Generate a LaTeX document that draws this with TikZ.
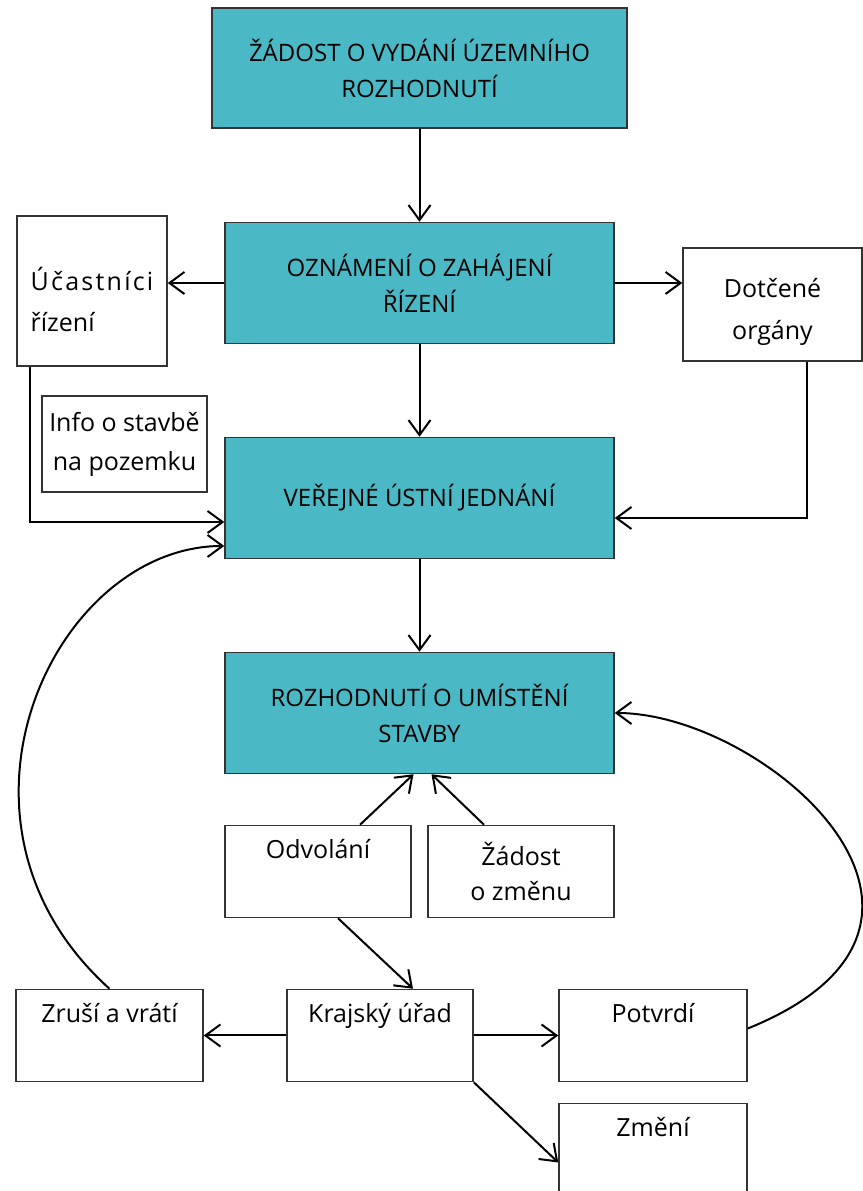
\documentclass[tikz,border=0pt]{standalone}
\usepackage{fontspec}
\setmainfont{Open Sans}
\usetikzlibrary{arrows.meta}
\definecolor{tealbox}{RGB}{74,185,197}

\begin{document}
\begin{tikzpicture}[x=1pt,y=1pt,->,>={Straight Barb[length=15pt,width=22pt]},line width=2pt,node distance=215pt]
\tikzstyle{main}=[draw=black!80,line width=1.5pt,fill=tealbox,minimum width=389pt,minimum height=121pt,align=center,font=\fontsize{24}{36}\selectfont]
\tikzstyle{side}=[draw=black!80,line width=1.5pt,fill=white,minimum width=186pt,minimum height=92pt,align=center,font=\fontsize{25}{35}\selectfont]
\tikzstyle{upper}=[text height=18pt,text depth=44pt]

\useasboundingbox (0,0) rectangle (862,1191);

\node[main,minimum width=415pt,minimum height=120pt] (ZU) at (419.5,1123) {ŽÁDOST O VYDÁNÍ ÚZEMNÍHO\\ROZHODNUTÍ};
\node[main] (OZ) [below of=ZU] {OZNÁMENÍ O ZAHÁJENÍ\\ŘÍZENÍ};
\node[main] (VJ) [below of=OZ] {VEŘEJNÉ ÚSTNÍ JEDNÁNÍ};
\node[main] (RU) [below of=VJ] {ROZHODNUTÍ O UMÍSTĚNÍ\\STAVBY};

\node[side,minimum width=150pt,minimum height=150pt,align=left,text height=82pt] (UC) at (92,900) {{\addfontfeatures{LetterSpace=9}Účastníci}\\[6pt]řízení};
\node[side,minimum width=179pt,minimum height=113pt,text height=76pt] (DO) at (772.5,886.5) {Dotčené\\[7pt]orgány};
\node[side,minimum width=165pt,minimum height=96pt] (IN) at (124.5,747) {Info o stavbě\\[4pt]na pozemku};

\node[side,upper] (OD) at (318,319.5) {Odvolání};
\node[side] (ZM) at (521,319.5) {Žádost\\o změnu};
\node[side,upper,minimum width=187pt] (ZV) at (109.5,155.5) {Zruší a vrátí};
\node[side,upper] (KU) at (380,155.5) {Krajský úřad};
\node[side,upper,minimum width=188pt] (PO) at (653,155.5) {Potvrdí};
\node[side,upper,minimum width=188pt] (ZE) at (653,41.5) {Změní};

\path (ZU) edge (OZ);
\path (OZ) edge (VJ);
\path (VJ) edge (RU);
\path (OZ.west) edge (OZ.west -| UC.east);
\path (OZ.east) edge (OZ.east -| DO.west);
\draw ([xshift=14pt]UC.south west) |- ([yshift=-24pt]VJ.west);
\draw ([xshift=34.5pt]DO.south) |- ([yshift=-20pt]VJ.east);
\path ([xshift=42pt]OD.north) edge ([xshift=-6pt]RU.south);
\path ([xshift=-37pt]ZM.north) edge ([xshift=12pt]RU.south);
\path ([xshift=20pt]OD.south) edge ([xshift=33pt]KU.north);
\path (KU.west) edge (KU.west -| ZV.east);
\path (KU.east) edge (KU.east -| PO.west);
\path (KU.south east) edge ([yshift=-13pt]ZE.west);
\draw (ZV.north) .. controls +(138:250) and +(-170,0) .. ([yshift=-48pt]VJ.west);
\draw ([yshift=7pt]PO.east) .. controls +(22:280) and +(150,0) .. (RU.east);
\end{tikzpicture}
\end{document}
